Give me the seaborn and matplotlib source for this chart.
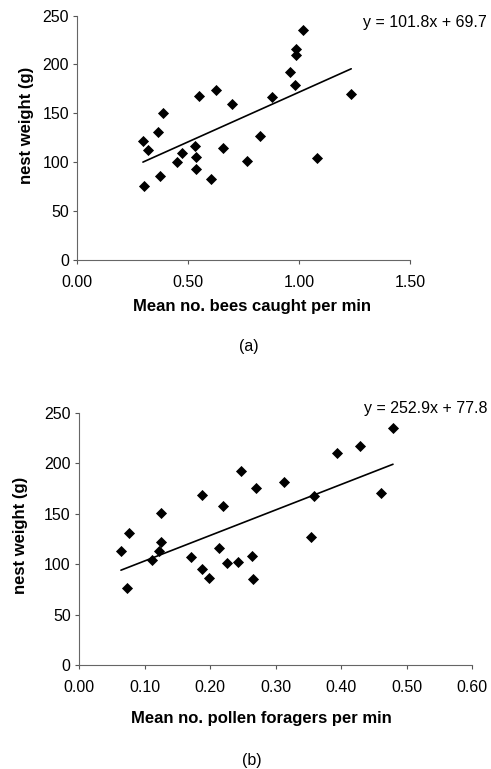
import numpy as np
import pandas as pd
import matplotlib
matplotlib.use("Agg")
import matplotlib.pyplot as plt
import seaborn as sns

# (a) bees caught per min vs nest weight
bees_x = [1.019, 0.985, 0.985, 0.958, 0.982, 1.235, 0.876, 0.627, 0.551, 0.696,
          0.385, 0.365, 0.825, 0.296, 0.319, 0.530, 0.656, 0.473, 0.533, 0.451,
          0.765, 1.082, 0.534, 0.605, 0.373, 0.301]
bees_y = [235, 216, 210, 192, 179, 170, 167, 174, 168, 159,
          150, 131, 127, 121, 112, 116, 114, 109, 105, 100,
          101, 104, 93, 83, 86, 75]
fit_a = (101.8, 69.7)

# (b) pollen foragers per min vs nest weight
pollen_x = [0.479, 0.429, 0.393, 0.247, 0.312, 0.270, 0.461, 0.187, 0.359, 0.220,
            0.125, 0.076, 0.354, 0.125, 0.064, 0.214, 0.122, 0.112, 0.171, 0.187,
            0.199, 0.226, 0.243, 0.264, 0.266, 0.073]
pollen_y = [235, 217, 210, 192, 181, 175, 170, 168, 167, 158,
            151, 131, 127, 122, 113, 116, 113, 104, 107, 95,
            86, 101, 102, 108, 85, 76]
fit_b = (252.9, 77.8)

sns.set_theme(style="ticks")
plt.rcParams['font.family'] = ['Liberation Sans', 'DejaVu Sans']
plt.rcParams.update({'text.color': 'black', 'axes.labelcolor': 'black',
                     'xtick.labelcolor': 'black', 'ytick.labelcolor': 'black'})

W, H = 491, 769
fig = plt.figure(figsize=(W / 100, H / 100), dpi=100)
ax1 = fig.add_axes([0.1574, 0.6625, 0.6776, 0.3173])
ax2 = fig.add_axes([0.1609, 0.1352, 0.8010, 0.3281])


def panel(ax, xs, ys, fit, xlim, xticks, xlabel, eq_y, xl_pos, yl_pos):
    df = pd.DataFrame({'x': xs, 'y': ys})
    sns.scatterplot(data=df, x='x', y='y', ax=ax, marker='D', s=32,
                    color='black', edgecolor='black', linewidth=0, zorder=3)
    lx = np.array([min(xs), max(xs)])
    line = pd.DataFrame({'x': lx, 'y': fit[0] * lx + fit[1]})
    sns.lineplot(data=line, x='x', y='y', ax=ax, color='black', linewidth=1.2)
    ax.set_xlim(*xlim)
    ax.set_ylim(0, 250)
    ax.set_xticks(xticks)
    ax.set_xticklabels([f"{t:.2f}" for t in xticks])
    ax.set_yticks([0, 50, 100, 150, 200, 250])
    ax.tick_params(labelsize=11.5, length=3, width=0.8, color='#555555', pad=3)
    ax.tick_params(axis='x', pad=8)
    for s in ['top', 'right']:
        ax.spines[s].set_visible(False)
    for s in ['left', 'bottom']:
        ax.spines[s].set_color('#666666')
        ax.spines[s].set_linewidth(0.8)
    ax.set_xlabel(xlabel, fontsize=12, fontweight='bold', va='center')
    ax.set_ylabel('nest weight (g)', fontsize=12, fontweight='bold', va='center')
    ax.xaxis.set_label_coords(*xl_pos)
    ax.yaxis.set_label_coords(*yl_pos)
    sign = '+' if fit[1] >= 0 else '-'
    fig.text(487 / W, 1 - eq_y / H, f"y = {fit[0]}x {sign} {abs(fit[1])}",
             ha='right', va='center', fontsize=11.5)


panel(ax1, bees_x, bees_y, fit_a, (0, 1.5), [0.0, 0.5, 1.0, 1.5],
      'Mean no. bees caught per min', 23, (0.524, -0.193), (-0.152, 0.551))
panel(ax2, pollen_x, pollen_y, fit_b, (0, 0.6), [0.0, 0.1, 0.2, 0.3, 0.4, 0.5, 0.6],
      'Mean no. pollen foragers per min', 408, (0.4636, -0.211), (-0.150, 0.515))

fig.text(249 / W, 1 - 347 / H, '(a)', ha='center', va='center', fontsize=11.5)
fig.text(252 / W, 1 - 761 / H, '(b)', ha='center', va='center', fontsize=11.5)

fig.savefig('out.png', dpi=100)
